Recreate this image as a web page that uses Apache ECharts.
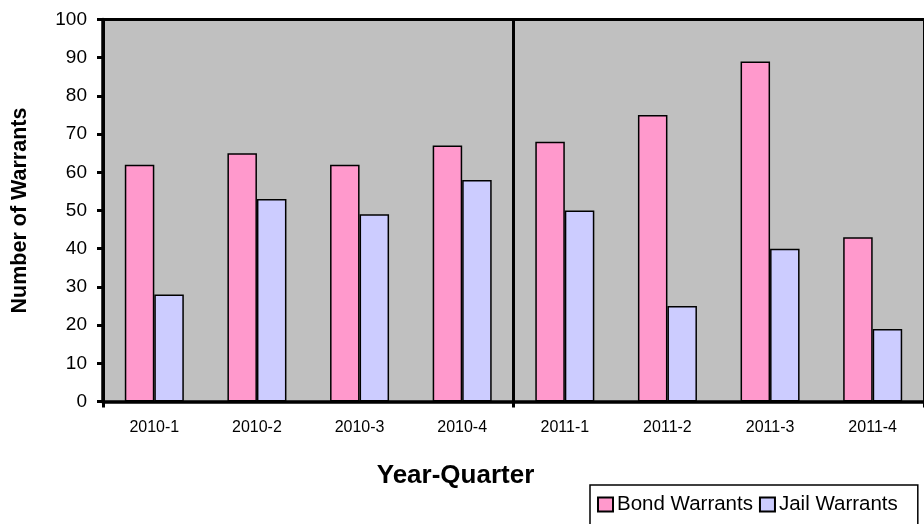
<!DOCTYPE html>
<html>
<head>
<meta charset="utf-8">
<script src="https://cdn.jsdelivr.net/npm/echarts@6/dist/echarts.min.js"></script>
<style>html,body{margin:0;padding:0;background:#fff}#c{width:924px;height:524px}</style>
</head>
<body>
<div id="c"></div>
<script>
const categories = ['2010-1','2010-2','2010-3','2010-4','2011-1','2011-2','2011-3','2011-4'];
const bondWarrants = [62, 65, 62, 67, 68, 75, 89, 43];
const jailWarrants = [28, 53, 49, 58, 50, 25, 40, 19];
const yTicks = {min: 0, max: 100, interval: 10};

const chart = echarts.init(document.getElementById('c'), null, {renderer: 'canvas'});
const font = '"Liberation Sans", Arial, sans-serif';
const yearBoundary = function (i) { return i === 0 || i === 4; };
chart.setOption({
  animation: false,
  textStyle: {fontFamily: font},
  grid: {left: 103, top: 19.5, right: -1, bottom: 122.5, show: true,
         backgroundColor: '#c0c0c0', borderColor: '#000', borderWidth: 1},
  legend: {
    left: 590, top: 485,
    padding: [9, 20, 24, 7],
    borderColor: '#000', borderWidth: 1.5,
    itemWidth: 15, itemHeight: 14, itemGap: 6,
    icon: 'rect',
    textStyle: {fontSize: 20.5, color: '#000', fontFamily: font, padding: [0, 0, 0, -1]},
    data: ['Bond Warrants', 'Jail Warrants']
  },
  xAxis: [{
    type: 'category',
    data: categories,
    name: 'Year-Quarter',
    nameLocation: 'middle',
    nameGap: 61,
    nameTextStyle: {fontSize: 26, fontWeight: 'bold', color: '#000', padding: [0, 116, 0, 0], verticalAlign: 'top'},
    axisLine: {lineStyle: {color: '#000', width: 3.5}},
    axisTick: {show: true, interval: yearBoundary, length: 6, lineStyle: {color: '#000', width: 3}},
    axisLabel: {fontSize: 16, color: '#000', margin: 18},
    splitLine: {show: true, interval: yearBoundary, lineStyle: {color: '#000', width: 3}}
  }, {
    type: 'category',
    data: categories,
    position: 'top',
    axisLine: {lineStyle: {color: '#000', width: 3}},
    axisTick: {show: false},
    axisLabel: {show: false},
    splitLine: {show: false}
  }],
  yAxis: {
    type: 'value',
    min: yTicks.min, max: yTicks.max, interval: yTicks.interval,
    name: 'Number of Warrants',
    nameLocation: 'middle',
    nameGap: 72,
    nameTextStyle: {fontSize: 21.5, fontWeight: 'bold', color: '#000'},
    axisLine: {show: true, lineStyle: {color: '#000', width: 3.5}},
    axisTick: {show: true, length: 6, lineStyle: {color: '#000', width: 3}},
    axisLabel: {fontSize: 19, color: '#000', margin: 16},
    splitLine: {show: false}
  },
  series: [{
    name: 'Bond Warrants',
    type: 'bar',
    data: bondWarrants,
    barGap: '0%',
    barCategoryGap: '42.5%',
    itemStyle: {color: '#ff99cc', borderColor: '#000', borderWidth: 1.5}
  }, {
    name: 'Jail Warrants',
    type: 'bar',
    data: jailWarrants,
    itemStyle: {color: '#ccccff', borderColor: '#000', borderWidth: 1.5}
  }]
});
</script>
</body>
</html>
